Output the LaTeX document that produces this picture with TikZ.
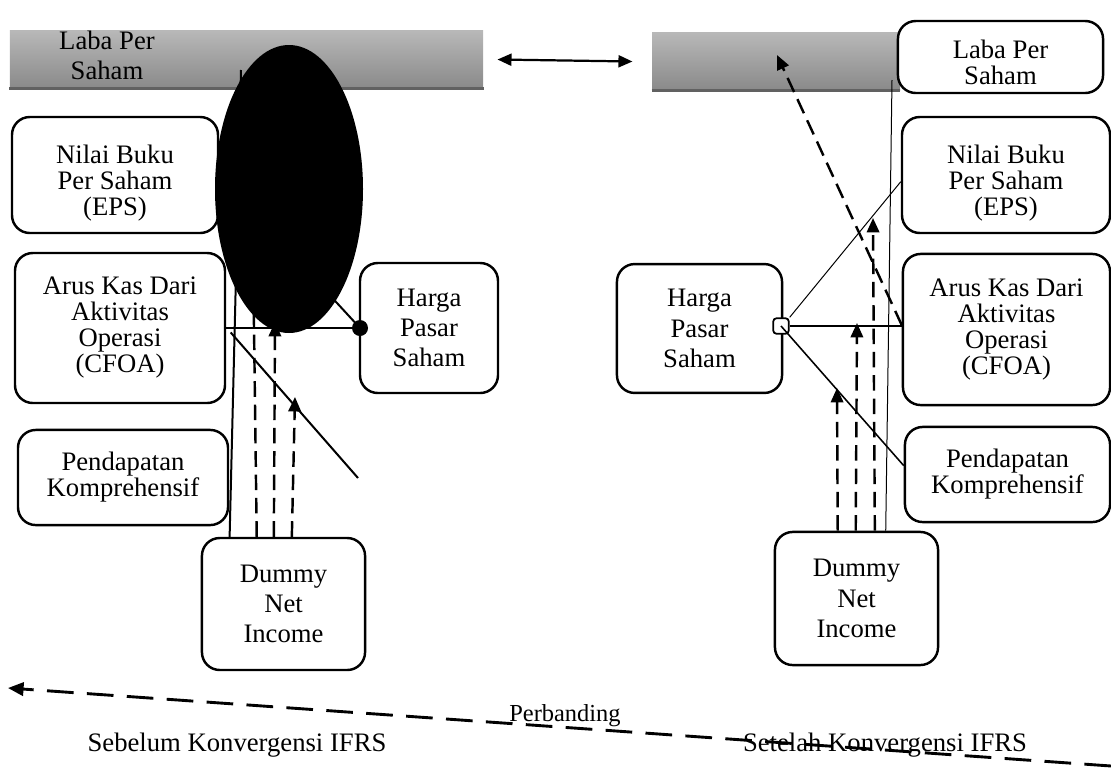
\documentclass[tikz,border=0pt]{standalone}
\usepackage{fontspec}
\setmainfont{Liberation Serif}
\usetikzlibrary{arrows.meta}

\begin{document}
\begin{tikzpicture}[x=0.45pt, y=-0.45pt,
  box/.style={draw, line width=1.1pt, rounded corners=8pt, fill=white,
              align=center, inner sep=0pt, font=\fontsize{12}{11.7}\selectfont},
  wide/.style={align=center, font=\fontsize{12}{13.6}\selectfont},
  bar/.style={top color=black!28, bottom color=black!46, inner sep=0pt},
  link/.style={line width=0.9pt},
  fine/.style={line width=0.45pt},
  dlink/.style={line width=1.1pt, dash pattern=on 7pt off 3.5pt},
  tip/.style={-{Triangle[length=6.5pt, width=5.6pt]}},
]
  \useasboundingbox (0,0) rectangle (1111,767);

  \node[bar, minimum width=212.9pt, minimum height=25.7pt] (barL) at (246.5,59.5) {};
  \node[bar, minimum width=111.6pt, minimum height=25.7pt] (barR) at (776,61.5) {};
  \draw[line width=1.4pt, black!62] (barL.south west) -- (barL.south east);
  \draw[line width=1.4pt, black!62] (barR.south west) -- (barR.south east);
  \node[wide] (labaL) at (107,55) {Laba Per\\Saham};
  \draw[line width=1pt, {Triangle[length=6.3pt, width=5.4pt]}-{Triangle[length=6.3pt, width=5.4pt]}]
    ([xshift=6.3pt]barL.east) -- ([xshift=-8.6pt]barR.west);

  \node[box, text height=39pt, minimum width=92.7pt, minimum height=52.2pt] (nilaiL) at (115,175) {Nilai Buku\\Per Saham\\(EPS)};
  \node[box, minimum width=94.5pt, minimum height=67.5pt] (arusL) at (120,328) {Arus Kas Dari\\Aktivitas\\Operasi\\(CFOA)};
  \node[box, minimum width=94.5pt, minimum height=42.8pt] (pendL) at (123,477.5) {Pendapatan\\Komprehensif};
  \node[box, wide, minimum width=73.4pt, minimum height=59.4pt] (dummyL) at (283.5,604) {Dummy\\Net\\Income};
  \node[box, wide, minimum width=62.1pt, minimum height=58.5pt] (hargaL) at (429,328) {Harga\\Pasar\\Saham};
  \node[circle, fill=black, minimum size=7.2pt, inner sep=0pt] (dotL) at (360,328) {};

  \coordinate (topL) at (241,70);
  \coordinate (hidL) at (253,250);
  \coordinate (midL) at (275,322);
  \coordinate (lowL) at (295,397);
  \coordinate (endL) at (358,478);
  \draw[link] (nilaiL.east) -- (dotL.center);
  \draw[link] (arusL.east) -- (dotL);
  \draw[link] ([xshift=2pt, yshift=-2pt]arusL.east) -- (endL);
  \draw[link] ([xshift=13pt]dummyL.north west) -- (topL);
  \draw[dlink] ([xshift=25.2pt]dummyL.north west) -- (hidL);
  \draw[dlink, tip] ([xshift=32.9pt]dummyL.north west) -- (midL);
  \draw[dlink, tip] ([xshift=41pt]dummyL.north west) -- (lowL);
  \fill (289,189) ellipse [x radius=74, y radius=144];

  \node[box, text height=24.6pt, minimum width=92.3pt, minimum height=32.4pt] (labaR) at (1000.5,57) {Laba Per\\Saham};
  \node[box, text height=39pt, minimum width=93.6pt, minimum height=52.2pt] (nilaiR) at (1006,175) {Nilai Buku\\Per Saham\\(EPS)};
  \node[box, minimum width=93.2pt, minimum height=68pt] (arusR) at (1006.5,329.5) {Arus Kas Dari\\Aktivitas\\Operasi\\(CFOA)};
  \node[box, minimum width=92.3pt, minimum height=42.8pt] (pendR) at (1007.5,474.5) {Pendapatan\\Komprehensif};
  \node[box, wide, minimum width=73.4pt, minimum height=59.9pt] (dummyR) at (856.5,598.5) {Dummy\\Net\\Income};
  \node[box, wide, minimum width=74.3pt, minimum height=58pt] (hargaR) at (699.5,328.5) {Harga\\Pasar\\Saham};
  \node[draw, fill=white, line width=0.8pt, rounded corners=1.5pt, minimum size=7pt, inner sep=0pt] (sqR) at (781,326) {};

  \coordinate (topR) at (892,80);
  \coordinate (lowR) at (837,388);
  \coordinate (midR) at (857,323);
  \coordinate (hiR) at (873,218);
  \coordinate (barHit) at (777,55);
  \draw[fine] (sqR.north east) -- ([yshift=-3pt]nilaiR.west);
  \draw[link] (sqR.east) -- (sqR.east -| arusR.west);
  \draw[line width=0.7pt] (sqR.center) -- ([yshift=4pt]pendR.west);
  \draw[fine] ([xshift=50.4pt]dummyR.north west) -- (topR);
  \draw[dlink, tip] ([xshift=28.8pt]dummyR.north west) -- (lowR);
  \draw[dlink, tip] ([xshift=36.9pt]dummyR.north west) -- (midR);
  \draw[dlink, tip] ([xshift=45.5pt]dummyR.north west) -- (hiR);
  \draw[dlink, tip] ([yshift=2pt]arusR.west) -- (barHit);

  \node[font=\fontsize{12}{14}\selectfont] (before) at (237,745) {Sebelum Konvergensi IFRS};
  \node[font=\fontsize{12}{14}\selectfont] (after) at (885,745) {Setelah Konvergensi IFRS};
  \node[font=\fontsize{11}{12}\selectfont] (cmp) at (565,716) {Perbanding};
  \coordinate (cmpR) at (1111,766);
  \coordinate (cmpL) at (8,688);
  \draw[line width=1.3pt, dash pattern=on 12pt off 6pt, -{Triangle[length=7pt, width=6pt]}] (cmpR) -- (cmpL);
\end{tikzpicture}
\end{document}
